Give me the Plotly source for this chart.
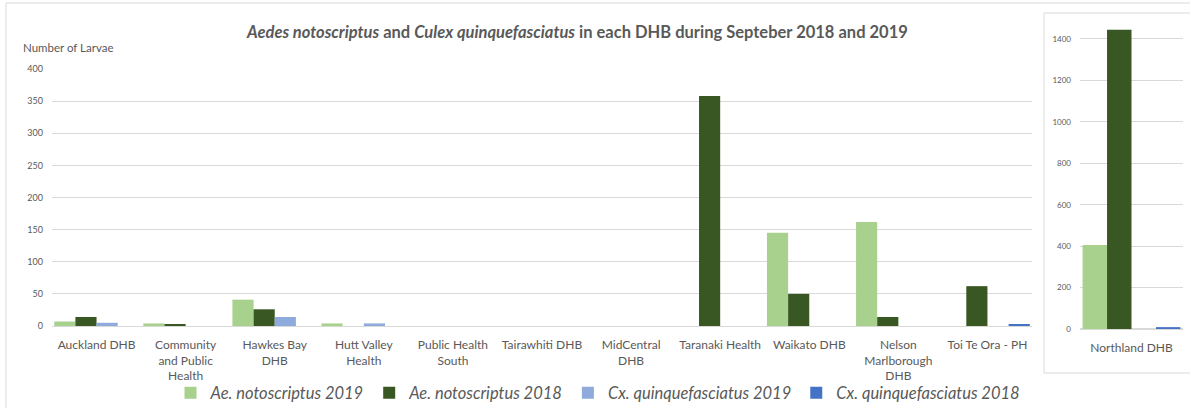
import plotly.graph_objects as go

categories = ["Auckland DHB", "Community<br>and Public<br>Health", "Hawkes Bay<br>DHB",
              "Hutt Valley<br>Health", "Public Health<br>South", "Tairawhiti DHB",
              "MidCentral<br>DHB", "Taranaki Health", "Waikato DHB",
              "Nelson<br>Marlborough<br>DHB", "Toi Te Ora - PH"]
ae_2019 = [7, 4, 41, 4, 0, 0, 0, 0, 145, 162, 0]
ae_2018 = [14, 3, 26, 0, 0, 0, 0, 358, 50, 14, 62]
cx_2019 = [5, 0, 14, 4, 0, 0, 0, 0, 0, 0, 0]
cx_2018 = [0, 0, 0, 0, 0, 0, 0, 0, 0, 0, 3]

north_cat = ["Northland DHB"]
north_ae_2019 = [405]
north_ae_2018 = [1445]
north_cx_2019 = [0]
north_cx_2018 = [9]

series_names = ["Ae. notoscriptus 2019", "Ae. notoscriptus 2018",
                "Cx. quinquefasciatus 2019", "Cx. quinquefasciatus 2018"]
colors = ["#A9D18E", "#385723", "#8FAADC", "#4472C4"]

W, H = 1190, 408
def px(x): return x / W
def py(y): return (H - y) / H

fig = go.Figure()
main_vals = [ae_2019, ae_2018, cx_2019, cx_2018]
north_vals = [north_ae_2019, north_ae_2018, north_cx_2019, north_cx_2018]
for name, col, mv, nv in zip(series_names, colors, main_vals, north_vals):
    fig.add_trace(go.Bar(x=categories, y=mv, name=name, marker=dict(color=col, line=dict(width=0)),
                         xaxis="x", yaxis="y", legendgroup=name))
    fig.add_trace(go.Bar(x=north_cat, y=nv, name=name, marker=dict(color=col, line=dict(width=0)),
                         xaxis="x2", yaxis="y2", legendgroup=name, showlegend=False))

grid = "#D9D9D9"
tickfont = dict(family="Lato", size=9, color="#595959")
catfont = dict(family="Lato", size=12, color="#595959")

fig.update_layout(
    width=W, height=H,
    margin=dict(l=0, r=0, t=0, b=0, autoexpand=False),
    paper_bgcolor="white", plot_bgcolor="white",
    barmode="group", bargap=0.05, bargroupgap=0,
    xaxis=dict(domain=[px(52), px(1032)], anchor="y", tickfont=catfont, automargin=False,
               showgrid=False, showline=False, ticks="", ticklabelstandoff=10),
    yaxis=dict(domain=[py(326), py(69)], range=[0, 400], dtick=50, anchor="x", automargin=False,
               tickfont=tickfont, gridcolor=grid, gridwidth=1, zeroline=True,
               zerolinecolor=grid, zerolinewidth=1, showline=False, ticks="",
               ticklabelstandoff=8),
    xaxis2=dict(domain=[px(1080), px(1183)], anchor="y2", tickfont=catfont, automargin=False,
                showgrid=False, showline=False, ticks="", type="category", ticklabelstandoff=10),
    yaxis2=dict(domain=[py(329), py(329 - 1500 * 290 / 1400)], range=[0, 1500], automargin=False,
                tickvals=[0, 200, 400, 600, 800, 1000, 1200, 1400], anchor="x2",
                tickfont=dict(family="Lato", size=8, color="#595959"),
                gridcolor=grid, gridwidth=1, zeroline=True, zerolinecolor=grid,
                ticks="", ticklabelstandoff=8),
    legend=dict(orientation="h", x=px(598), xanchor="center", y=py(393), yanchor="middle",
                font=dict(family="Lato", size=16.5, color="#595959", style="italic"),
                itemwidth=30, traceorder="normal", bgcolor="rgba(0,0,0,0)"),
    showlegend=True,
)

fig.add_annotation(x=px(577), y=py(32), xref="paper", yref="paper", showarrow=False,
                   text="<b><i>Aedes notoscriptus</i> and <i>Culex quinquefasciatus</i> in each DHB during Septeber 2018 and 2019</b>",
                   font=dict(family="Lato", size=16.5, color="#595959"), xanchor="center", yanchor="middle")
fig.add_annotation(x=px(21), y=py(47), xref="paper", yref="paper", showarrow=False,
                   text="Number of Larvae", font=dict(family="Lato", size=11.5, color="#595959"),
                   xanchor="left", yanchor="middle")

# outer chart border and right panel box
fig.add_shape(type="rect", xref="paper", yref="paper", x0=px(6), x1=px(1195), y0=py(420), y1=py(3),
              line=dict(color="#D9D9D9", width=1), layer="below")
fig.add_shape(type="rect", xref="paper", yref="paper", x0=px(1044), x1=px(1195), y0=py(373), y1=py(13),
              line=dict(color="#D9D9D9", width=1), fillcolor="white", layer="below")

fig.write_html("out.html", config={"displayModeBar": False},
               post_script="document.body.style.margin='0';document.body.style.padding='0';")
